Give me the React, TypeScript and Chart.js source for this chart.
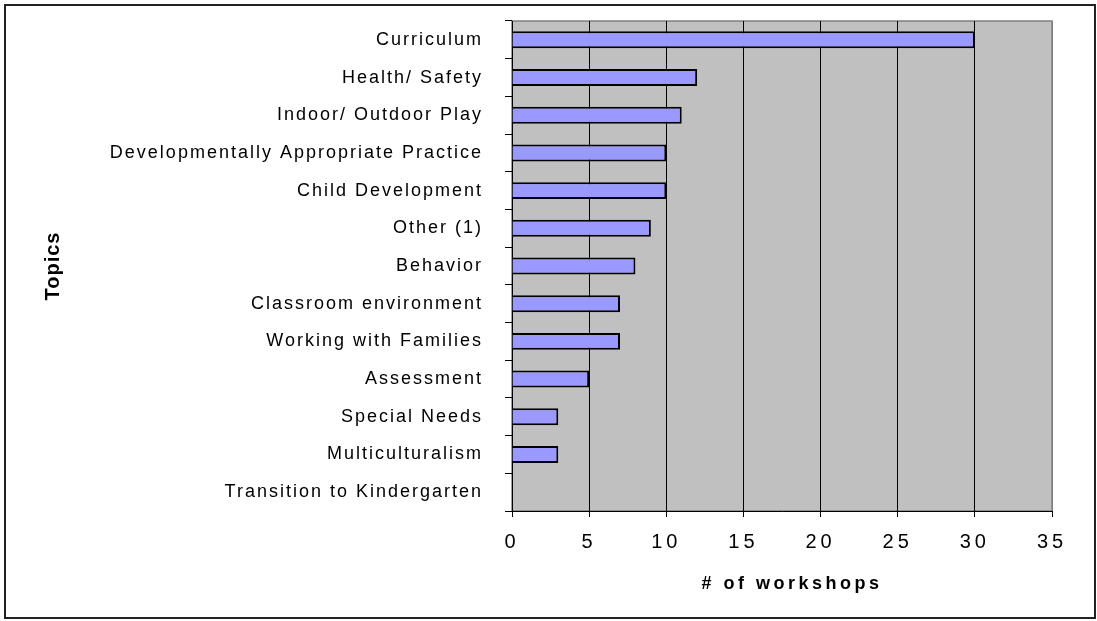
import React, { useEffect, useRef } from 'react';
import { Chart, registerables } from 'chart.js';

Chart.register(...registerables);

const topics = [
  'Curriculum',
  'Health/ Safety',
  'Indoor/ Outdoor Play',
  'Developmentally Appropriate Practice',
  'Child Development',
  'Other (1)',
  'Behavior',
  'Classroom environment',
  'Working with Families',
  'Assessment',
  'Special Needs',
  'Multiculturalism',
  'Transition to Kindergarten',
];
const workshops = [30, 12, 11, 10, 10, 9, 8, 7, 7, 5, 3, 3, 0];
const xTicks = [0, 5, 10, 15, 20, 25, 30, 35];

const FONT = '"Liberation Sans", Arial, sans-serif';

const spacingPlugin = {
  id: 'spacingPlugin',
  afterUpdate(chart: any) {
    const patch = (scale: any, lab: string, tit: string, dx: number) => {
      if (!scale || scale.__patched) return;
      const dl = scale.drawLabels;
      const dt = scale.drawTitle;
      scale.drawLabels = function (a: any) {
        const c = this.ctx;
        c.save();
        c.letterSpacing = lab;
        dl.call(this, a);
        c.restore();
      };
      scale.drawTitle = function () {
        const c = this.ctx;
        c.save();
        c.letterSpacing = tit;
        c.translate(dx, 0);
        dt.call(this);
        c.restore();
      };
      scale.__patched = true;
    };
    patch(chart.scales.x, '4px', '3.5px', 10);
    patch(chart.scales.y, '2px', '1px', 0);
  },
};

const framePlugin = {
  id: 'framePlugin',
  beforeDraw(chart: any) {
    const { ctx, chartArea: a } = chart;
    ctx.save();
    ctx.fillStyle = '#C0C0C0';
    ctx.fillRect(a.left, a.top, a.right - a.left, a.bottom - a.top);
    ctx.strokeStyle = '#808080';
    ctx.lineWidth = 1.5;
    ctx.strokeRect(a.left, a.top, a.right - a.left, a.bottom - a.top);
    ctx.restore();
  },
  afterDraw(chart: any) {
    const { ctx } = chart;
    ctx.save();
    ctx.strokeStyle = '#222';
    ctx.lineWidth = 2;
    ctx.strokeRect(5, 5, 1090, 613);
    ctx.restore();
  },
};

export default function App() {
  const ref = useRef<HTMLCanvasElement>(null);
  useEffect(() => {
    if (!ref.current) return;
    const chart = new Chart(ref.current, {
      type: 'bar',
      data: {
        labels: topics,
        datasets: [
          {
            data: workshops,
            backgroundColor: '#9999FF',
            borderColor: '#000',
            borderWidth: 2,
            barPercentage: 0.45,
            categoryPercentage: 1,
          },
        ],
      },
      options: {
        indexAxis: 'y',
        animation: false,
        responsive: false,
        devicePixelRatio: 1,
        layout: { padding: { top: 21, right: 45, bottom: 0, left: 0 } },
        plugins: { legend: { display: false }, tooltip: { enabled: false } },
        scales: {
          x: {
            type: 'linear',
            position: 'bottom',
            min: xTicks[0],
            max: xTicks[xTicks.length - 1],
            ticks: {
              stepSize: xTicks[1] - xTicks[0],
              color: '#000',
              font: { family: FONT, size: 20 },
              padding: 13,
            },
            grid: {
              color: (c: any) => (c.tick && c.tick.value === xTicks[xTicks.length - 1] ? '#808080' : '#000'),
              tickColor: '#000',
              tickLength: 6,
              lineWidth: 1,
            },
            border: { color: '#000', width: 1 },
            title: {
              display: true,
              text: '# of workshops',
              color: '#000',
              font: { family: FONT, size: 18, weight: 'bold' },
              padding: { top: 0, bottom: 26 },
            },
            afterFit(s: any) {
              s.height = 110;
              s.paddingLeft = 0;
              s.paddingRight = 0;
            },
          },
          y: {
            type: 'category',
            ticks: {
              color: '#000',
              font: { family: FONT, size: 18 },
              padding: 22,
              autoSkip: false,
            },
            grid: {
              drawOnChartArea: false,
              offset: true,
              tickLength: 7,
              color: '#000',
            },
            border: { color: '#000', width: 1 },
            title: {
              display: true,
              text: 'Topics',
              color: '#000',
              font: { family: FONT, size: 20, weight: 'bold' },
              padding: { top: 41, bottom: 0 },
            },
            afterFit(s: any) {
              s.width = 512;
              s.paddingTop = 0;
              s.paddingBottom = 0;
            },
          },
        },
      } as any,
      plugins: [spacingPlugin, framePlugin],
    });
    return () => chart.destroy();
  }, []);
  return (
    <div style={{ position: 'absolute', left: 0, top: 0, width: 1097, height: 621, background: '#fff' }}>
      <canvas ref={ref} width={1097} height={621} />
    </div>
  );
}
